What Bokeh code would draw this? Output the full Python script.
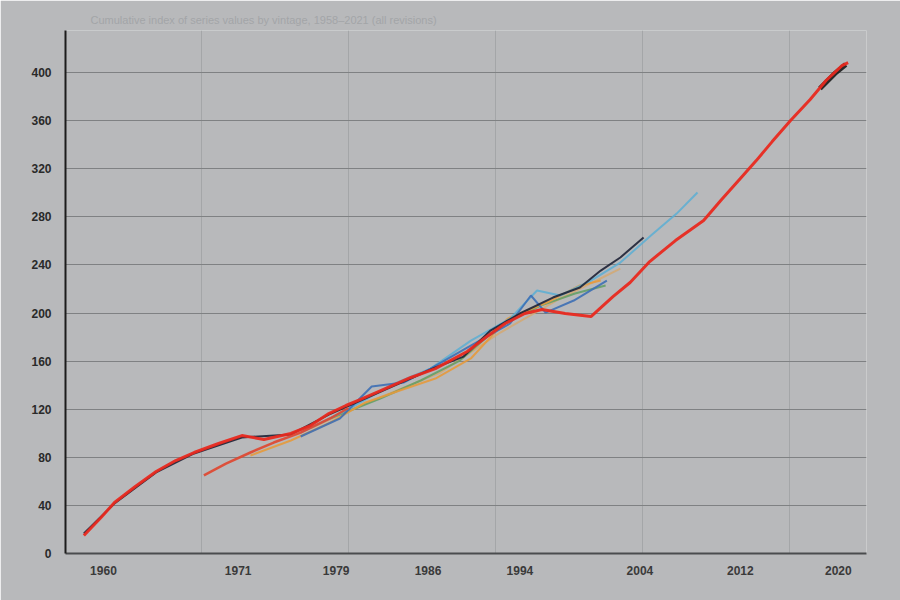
from bokeh.plotting import figure
from bokeh.models import FixedTicker, Range1d
from bokeh.embed import file_html
from bokeh.resources import INLINE

# ---- data ----
red_years = [1958.4, 1959.8, 1960.9, 1962.6, 1964.3, 1965.9, 1967.4, 1969.4, 1971.3, 1973.1,
             1975.3, 1976.9, 1978.4, 1979.8, 1981.0, 1983.2, 1985.1, 1987.1, 1989.7, 1991.2,
             1992.8, 1994.4, 1995.8, 1997.7, 1999.8, 2001.6, 2003.0, 2004.6, 2006.7, 2009.0,
             2010.4, 2012.0, 2013.3, 2014.6, 2016.1, 2017.7, 2019.0, 2020.3, 2020.8]
red_vals = [15.0, 29.9, 42.4, 55.7, 68.2, 77.3, 84.0, 91.5, 98.1, 94.8,
            99.8, 106.4, 116.4, 123.1, 128.1, 138.0, 146.4, 153.8, 168.0, 179.6,
            191.3, 199.6, 202.9, 199.6, 197.1, 213.7, 225.4, 242.8, 260.3, 276.9,
            293.6, 311.9, 326.8, 342.6, 360.1, 377.6, 393.4, 405.8, 408.3]

red2_years = [1968.2, 1970.0, 1972.0, 1973.9, 1976.1, 1978.5, 1980.0]
red2_vals = [64.9, 74.8, 84.0, 92.3, 100.6, 112.3, 121.0]

black_years = [1958.4, 1960.9, 1964.3, 1967.4, 1971.3, 1975.3, 1978.4, 1981.0, 1983.2, 1987.1,
               1989.4, 1991.6, 1994.0, 1996.7, 1998.9, 2000.6, 2002.2, 2004.1]
black_vals = [16.6, 41.6, 67.4, 83.2, 96.5, 99.0, 115.6, 127.2, 137.2, 154.7,
              163.8, 185.4, 199.6, 212.9, 221.2, 235.3, 246.2, 262.8]

tail_years = [2018.5, 2019.8, 2020.6]
tail_vals = [386.7, 400.0, 406.7]

lightblue_years = [1976.1, 1979.8, 1983.4, 1986.7, 1990.0, 1993.2, 1995.4, 1997.3, 1999.8,
                   2002.2, 2004.7, 2006.8, 2008.5]
lightblue_vals = [100.6, 118.9, 139.7, 153.8, 177.1, 195.4, 218.7, 214.6, 227.0,
                  242.0, 264.4, 282.7, 300.2]

blue_years = [1976.1, 1979.3, 1981.9, 1984.5, 1986.7, 1989.7, 1993.2, 1994.9, 1996.1, 1998.4, 2001.1]
blue_vals = [97.3, 112.3, 138.9, 142.2, 153.8, 171.3, 191.3, 214.6, 200.4, 210.4, 227.0]

orange_years = [1972.0, 1975.3, 1978.5, 1981.4, 1984.2, 1987.1, 1990.0, 1993.0, 1996.2, 1998.9, 2000.6]
orange_vals = [81.5, 94.0, 108.9, 125.6, 135.6, 145.5, 162.2, 195.4, 208.7, 222.9, 227.0]

green_years = [1978.5, 1982.6, 1985.9, 1989.1, 1992.4, 1995.7, 1998.5, 2001.0]
green_vals = [112.3, 128.9, 143.9, 160.5, 189.6, 206.2, 216.2, 222.9]

tan_years = [1976.9, 1981.0, 1987.5, 1992.4, 1997.3, 2002.2]
tan_vals = [104.0, 123.1, 150.5, 183.8, 212.1, 237.0]

x_ticks = [1960, 1971, 1979, 1986.5, 1994, 2003.8, 2012, 2020]
x_labels = ["1960", "1971", "1979", "1986", "1994", "2004", "2012", "2020"]
x_grid = [1968, 1980, 1992, 2004, 2016]
y_ticks = [0, 40, 80, 120, 160, 200, 240, 280, 320, 360, 400]

BG = "#b8b9bb"

p = figure(width=900, height=600, output_backend="svg", toolbar_location=None,
           x_range=Range1d(1956.9, 2022.3), y_range=Range1d(0, 435),
           min_border_left=65, min_border_right=34, min_border_top=30, min_border_bottom=47)

p.background_fill_color = BG
p.border_fill_color = BG
p.outline_line_color = None

p.title.text = "Cumulative index of series values by vintage, 1958\u20132021 (all revisions)"
p.title.text_color = "#a3a5a8"
p.title.text_font = "Liberation Sans"
p.title.text_font_size = "11px"
p.title.text_font_style = "normal"
p.title.offset = 25

# grids
p.ygrid.ticker = FixedTicker(ticks=y_ticks[1:])
p.ygrid.grid_line_color = "#7f8183"
p.ygrid.grid_line_width = 1
p.xgrid.ticker = FixedTicker(ticks=x_grid)
p.xgrid.grid_line_color = "#a4a6a8"
p.xgrid.grid_line_width = 1

# axes
p.yaxis.ticker = FixedTicker(ticks=y_ticks)
p.yaxis.axis_line_color = "#1c1c1c"
p.yaxis.axis_line_width = 2
p.yaxis.major_tick_line_color = None
p.yaxis.minor_tick_line_color = None
p.yaxis.major_tick_out = 0
p.yaxis.major_label_standoff = 14
p.yaxis.major_label_text_font = "Liberation Sans"
p.yaxis.major_label_text_font_size = "12px"
p.yaxis.major_label_text_font_style = "bold"
p.yaxis.major_label_text_color = "#2a2a2a"

p.xaxis.ticker = FixedTicker(ticks=x_ticks)
p.xaxis.major_label_overrides = {t: l for t, l in zip(x_ticks, x_labels)}
p.xaxis.axis_line_color = "#4a4c4e"
p.xaxis.axis_line_width = 2
p.xaxis.major_tick_line_color = None
p.xaxis.minor_tick_line_color = None
p.xaxis.major_tick_out = 0
p.xaxis.major_label_standoff = 12
p.xaxis.major_label_text_font = "Liberation Sans"
p.xaxis.major_label_text_font_size = "12px"
p.xaxis.major_label_text_font_style = "bold"
p.xaxis.major_label_text_color = "#3a3a3a"

# lines
p.line(tan_years, tan_vals, line_color="#d4a872", line_width=2, line_alpha=0.85)
p.line(green_years, green_vals, line_color="#5f9e63", line_width=2, line_alpha=0.85)
p.line(orange_years, orange_vals, line_color="#e59a3c", line_width=2, line_alpha=0.9)
p.line(lightblue_years, lightblue_vals, line_color="#5aaed3", line_width=2, line_alpha=0.85)
p.line(blue_years, blue_vals, line_color="#3d6fb5", line_width=2, line_alpha=0.9)
p.line(black_years, black_vals, line_color="#1e2236", line_width=2, line_alpha=0.9)
p.line(tail_years, tail_vals, line_color="#1a1a1a", line_width=5, line_alpha=0.9)
p.line(red2_years, red2_vals, line_color="#e0452d", line_width=2.5, line_alpha=0.9)
p.line(red_years, red_vals, line_color="#e8291f", line_width=3, line_alpha=0.95)

open("out.html", "w").write(file_html(p, INLINE))
